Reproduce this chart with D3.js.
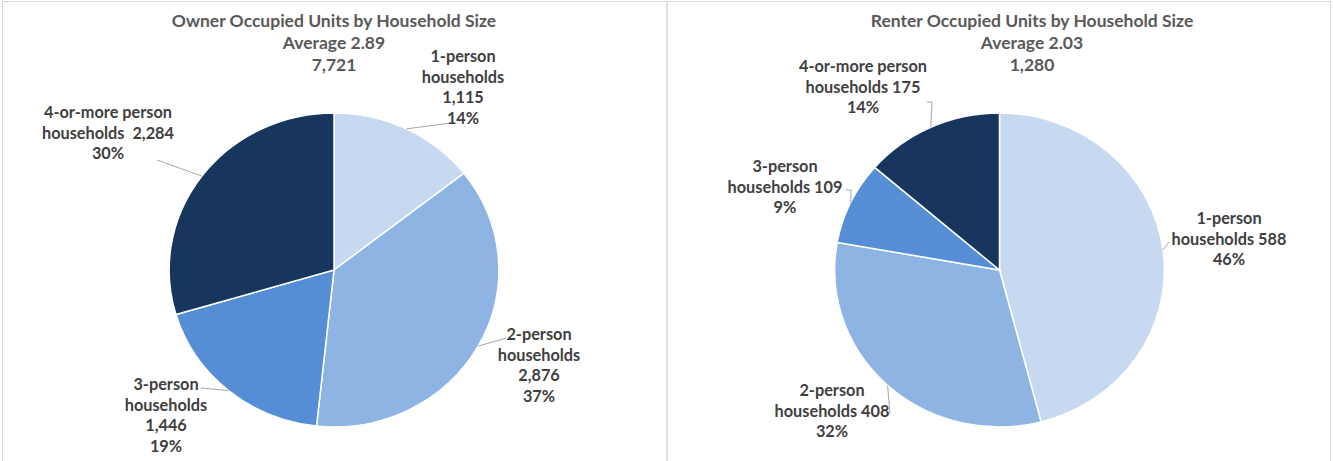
<!DOCTYPE html>
<html>
<head>
<meta charset="utf-8">
<script src="https://cdn.jsdelivr.net/npm/d3@7"></script>
<style>
  html, body { margin: 0; padding: 0; background: #fff; }
  svg { display: block; }
  text { font-family: Lato, "Liberation Sans Narrow", sans-serif; font-weight: bold; white-space: pre; }
</style>
</head>
<body>
<svg id="chart" width="1333" height="461"></svg>
<script>
// ---- data ----
const categories = ["1-person", "2-person", "3-person", "4-or-more person"];
const ownerValues = [1115, 2876, 1446, 2284];
const renterValues = [588, 408, 109, 175];
const chartTitles = ["Owner Occupied Units by Household Size", "Renter Occupied Units by Household Size"];
const averageLabels = ["Average 2.89", "Average 2.03"];
const sliceColors = ["#C6D9F1", "#8EB4E3", "#558ED5", "#17365D"];

// ---- layout ----
const svg = d3.select("#chart");
const fmtNum = d3.format(",");
const fmtPct = d3.format(".0%");
const R = 157, XS = 1.05;

const charts = [
  {
    values: ownerValues, title: chartTitles[0], avg: averageLabels[0],
    panel: [2.5, 1.5, 664.5, 462], cx: 334, cy: 270, titleX: 334,
    labels: [
      { mode: "split", x: 463, y: 62, end: [[451, 123]] },
      { mode: "split", x: 539, y: 340, end: [[506, 338]] },
      { mode: "split", x: 166, y: 390, end: [[201, 388]] },
      { mode: "joined", sep: "  ", x: 108, y: 118, end: [[157, 160]] }
    ]
  },
  {
    values: renterValues, title: chartTitles[1], avg: averageLabels[1],
    panel: [667, 1.5, 663.5, 462], cx: 999.5, cy: 270, titleX: 1032,
    labels: [
      { mode: "joined", sep: " ", x: 1229, y: 224, end: [[1169, 242]] },
      { mode: "joined", sep: " ", x: 832, y: 396, end: [[890, 414]] },
      { mode: "joined", sep: " ", x: 785, y: 172, end: [[851, 190], [846, 190]] },
      { mode: "joined", sep: " ", x: 863, y: 72, end: [[932, 102], [927, 102]] }
    ]
  }
];

const pie = d3.pie().sort(null).value(d => d);
const arc = d3.arc().innerRadius(0).outerRadius(R);

charts.forEach(ch => {
  const total = d3.sum(ch.values);
  const [px, py, pw, ph] = ch.panel;
  svg.append("rect").attr("x", px).attr("y", py).attr("width", pw).attr("height", ph)
    .attr("fill", "none").attr("stroke", "#d9d9d9").attr("stroke-width", 1);

  // titles
  const tLines = [ch.title, ch.avg, fmtNum(total)];
  svg.append("g").selectAll("text").data(tLines).join("text")
    .attr("x", ch.titleX).attr("y", (d, i) => 27 + i * 22)
    .attr("text-anchor", "middle").attr("fill", "#595959").attr("font-size", 17.5)
    .text(d => d);

  const arcs = pie(ch.values);
  const g = svg.append("g").attr("transform", `translate(${ch.cx},${ch.cy}) scale(${XS},1)`);
  g.selectAll("path").data(arcs).join("path")
    .attr("d", arc)
    .attr("fill", (d, i) => sliceColors[i])
    .attr("stroke", "#fff").attr("stroke-width", 1.5).attr("vector-effect", "non-scaling-stroke");

  // leader lines + labels
  arcs.forEach((a, i) => {
    const L = ch.labels[i];
    const mid = (a.startAngle + a.endAngle) / 2;
    const sx = ch.cx + XS * R * Math.sin(mid);
    const sy = ch.cy - R * Math.cos(mid);
    const pts = [[sx, sy]].concat(L.end);
    svg.append("path").attr("d", d3.line()(pts))
      .attr("fill", "none").attr("stroke", "#a6a6a6").attr("stroke-width", 1);

    const name = categories[i];
    const val = fmtNum(ch.values[i]);
    const pct = fmtPct(ch.values[i] / total);
    const lines = L.mode === "split"
      ? [name, "households", val, pct]
      : [name, "households" + L.sep + val, pct];
    svg.append("g").selectAll("text").data(lines).join("text")
      .attr("x", L.x).attr("y", (d, k) => L.y + k * 20.5)
      .attr("text-anchor", "middle").attr("fill", "#404040").attr("font-size", 16.3)
      .text(d => d);
  });
});
</script>
</body>
</html>
